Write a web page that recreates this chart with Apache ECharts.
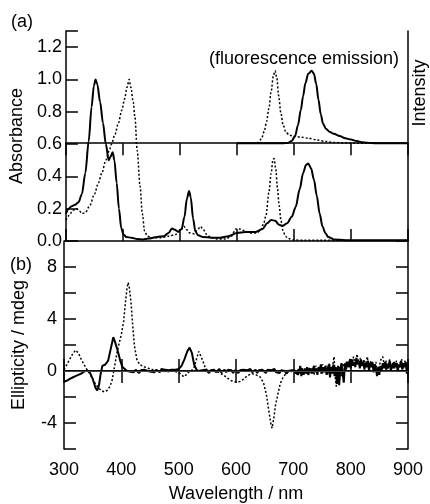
<!DOCTYPE html>
<html>
<head>
<meta charset="utf-8">
<script src="https://cdn.jsdelivr.net/npm/echarts@6/dist/echarts.min.js"></script>
<style>
  html, body { margin: 0; padding: 0; background: #fff; }
  #chart { width: 430px; height: 504px; }
</style>
</head>
<body>
<div id="chart"></div>
<script>
// (a) absorbance, [wavelength nm, absorbance]
const absSolid = [[300,0.17],[305,0.2],[310,0.215],[316,0.225],[322,0.24],[328,0.29],[334,0.42],[340,0.62],[345,0.83],[349,0.96],[352,1.0],[355,0.97],[360,0.86],[365,0.73],[370,0.6],[375,0.5],[378,0.52],[382,0.55],[385,0.5],[389,0.36],[393,0.2],[397,0.08],[401,0.04],[406,0.025],[415,0.02],[425,0.012],[435,0.01],[445,0.015],[460,0.025],[472,0.03],[480,0.05],[486,0.078],[491,0.07],[497,0.058],[503,0.075],[508,0.15],[512,0.26],[516,0.31],[519,0.27],[523,0.14],[527,0.06],[532,0.035],[540,0.025],[555,0.02],[570,0.02],[585,0.03],[600,0.05],[615,0.055],[633,0.056],[645,0.075],[653,0.11],[660,0.13],[667,0.125],[674,0.1],[680,0.093],[688,0.11],[696,0.15],[703,0.21],[710,0.32],[716,0.42],[721,0.47],[725,0.48],[730,0.45],[735,0.38],[740,0.28],[745,0.17],[750,0.09],[755,0.05],[760,0.025],[770,0.01],[790,0.005],[820,0.004],[900,0.004]];
const absDotted = [[300,0.13],[306,0.16],[312,0.19],[319,0.2],[324,0.185],[328,0.17],[334,0.175],[342,0.22],[350,0.29],[357,0.36],[363,0.42],[370,0.5],[376,0.56],[380,0.6],[386,0.66],[392,0.73],[398,0.81],[403,0.88],[407,0.95],[411,1.0],[414,0.95],[418,0.86],[421,0.77],[425,0.56],[430,0.34],[434,0.17],[438,0.06],[443,0.03],[450,0.02],[465,0.02],[480,0.03],[492,0.04],[500,0.06],[507,0.09],[512,0.07],[517,0.05],[525,0.045],[531,0.07],[536,0.09],[541,0.07],[547,0.04],[555,0.02],[565,0.012],[580,0.012],[590,0.03],[598,0.075],[604,0.075],[612,0.065],[622,0.05],[635,0.05],[642,0.07],[647,0.11],[651,0.16],[656,0.3],[660,0.42],[663,0.5],[665,0.51],[668,0.45],[671,0.33],[674,0.22],[677,0.13],[681,0.06],[685,0.03],[690,0.015],[700,0.006],[720,0.004],[900,0.003]];
// inset: fluorescence emission, [wavelength nm, normalised intensity]
const emSolid = [[600,0],[680,0],[689,0.005],[696,0.03],[702,0.1],[707,0.25],[712,0.46],[716,0.65],[720,0.83],[725,0.96],[731,1.0],[735,0.96],[739,0.82],[743,0.6],[747,0.4],[751,0.27],[756,0.2],[762,0.16],[770,0.13],[780,0.1],[790,0.07],[800,0.05],[810,0.03],[820,0.015],[835,0.002],[850,0],[900,0]];
const emDotted = [[600,0],[630,0],[637,0.01],[643,0.06],[648,0.17],[652,0.3],[656,0.48],[660,0.72],[664,0.94],[667,1.0],[670,0.9],[673,0.66],[677,0.42],[681,0.25],[686,0.15],[692,0.11],[700,0.095],[712,0.085],[725,0.07],[740,0.045],[755,0.025],[770,0.01],[790,0.003],[810,0],[900,0]];
// (b) CD, [wavelength nm, ellipticity mdeg]
const cdSolid = [[300,-0.8],[305,-0.75],[310,-0.6],[315,-0.5],[320,-0.4],[325,-0.3],[330,-0.2],[335,-0.05],[340,0.05],[345,-0.1],[350,-0.6],[355,-1.3],[358,-1.5],[361,-1.1],[364,-0.2],[367,0.4],[372,0.5],[377,0.8],[382,1.8],[386,2.6],[390,2.1],[394,1.5],[398,0.8],[402,0.3],[406,0.15],[410,0.0],[413,0.15],[416,-0.05],[419,0.1],[422,-0.1],[425,0.1],[428,0.0],[431,-0.15],[434,0.05],[437,-0.1],[440,0.1],[443,-0.05],[446,0.0],[449,0.15],[452,-0.05],[455,0.05],[458,-0.1],[461,0.1],[464,0.0],[467,-0.1],[470,0.15],[473,0.0],[476,0.1],[479,-0.05],[482,0.05],[485,-0.1],[488,0.1],[491,0.0],[495,0.1],[500,0.15],[505,0.4],[510,0.9],[515,1.5],[519,1.8],[523,1.4],[527,0.5],[531,0.1],[535,0.0],[538,-0.1],[541,0.05],[544,-0.1],[547,0.1],[550,0.0],[553,-0.15],[556,0.05],[559,-0.05],[562,0.1],[565,-0.1],[568,0.05],[571,0.15],[574,-0.1],[577,0.0],[580,0.1],[583,-0.1],[586,0.1],[589,-0.05],[592,0.05],[595,-0.15],[598,0.05],[601,0.0],[604,-0.15],[607,0.05],[610,-0.1],[613,0.1],[616,-0.05],[619,0.05],[622,-0.1],[625,0.15],[628,-0.1],[631,0.0],[634,0.1],[637,-0.15],[640,0.05],[643,-0.1],[646,0.1],[649,0.0],[652,-0.15],[655,0.1],[658,-0.05],[661,0.05],[664,-0.1],[667,0.15],[670,-0.1],[673,0.0],[676,-0.15],[679,0.05],[682,-0.1],[685,0.0],[688,-0.2],[691,0.0],[694,-0.1],[697,0.05],
  [700,-0.1],[702,0.05],[704,-0.2],[706,0.0],[708,-0.3],[710,-0.1],[712,0.4],[714,-0.4],[716,0.1],[718,-0.3],[720,0.2],[722,-0.2],[724,0.3],[726,-0.3],[728,0.0],[730,0.2],[732,-0.2],[734,0.1],[736,0.4],[738,-0.1],[740,0.2],[742,-0.3],[744,0.3],[746,0.0],[748,0.5],[750,-0.2],[752,0.3],[754,-0.1],[756,0.4],[758,-0.3],[760,0.2],[762,0.5],[764,-0.5],[766,0.3],[768,-0.2],[770,0.5],[772,-0.4],[774,0.3],[776,-1.0],[778,0.4],[780,-1.1],[782,0.2],[784,0.6],[786,-0.2],[788,-0.9],[790,0.6],[792,0.1],[794,0.7],[796,0.3],[798,0.8],[800,0.2],[802,0.9],[804,0.4],[806,0.7],[808,0.3],[810,1.0],[812,0.5],[814,0.8],[816,0.2],[818,0.9],[820,0.4],[822,0.7],[824,0.1],[826,0.6],[828,0.3],[830,0.8],[832,0.0],[834,0.6],[836,0.3],[838,0.7],[840,-0.1],[842,0.5],[844,0.2],[846,-0.4],[848,0.3],[850,-0.3],[852,0.4],[854,0.0],[856,0.6],[858,0.2],[860,0.7],[862,0.1],[864,0.5],[866,0.3],[868,0.8],[870,0.0],[872,0.5],[874,0.2],[876,0.7],[878,0.3],[880,0.6],[882,0.0],[884,0.5],[886,0.3],[888,0.8],[890,0.1],[892,0.6],[894,0.3],[896,0.7],[898,-0.2],[900,0.5]];
const cdDotted = [[300,0.1],[305,0.5],[310,0.9],[315,1.3],[320,1.6],[325,1.4],[330,0.9],[335,0.5],[340,0.1],[345,-0.2],[350,-0.6],[355,-1.0],[360,-1.3],[365,-1.5],[370,-1.6],[375,-1.5],[380,-1.2],[384,-0.7],[388,0.3],[392,1.3],[396,2.1],[400,2.8],[404,3.8],[407,5.2],[410,6.4],[412,6.8],[414,6.4],[417,5.2],[420,3.4],[423,1.9],[427,0.9],[432,0.5],[438,0.35],[445,0.25],[450,0.15],[460,0.05],[470,0.0],[480,-0.05],[490,0.0],[500,-0.1],[505,-0.3],[509,-0.45],[513,-0.3],[517,-0.1],[522,0.0],[527,0.3],[531,0.9],[535,1.5],[538,1.4],[542,0.8],[546,0.3],[550,0.05],[560,0.0],[570,-0.1],[578,-0.3],[585,-0.55],[592,-0.75],[600,-0.85],[607,-0.8],[614,-0.6],[620,-0.35],[628,-0.2],[635,-0.3],[642,-0.45],[648,-0.9],[653,-1.8],[657,-3.0],[661,-4.1],[663,-4.4],[666,-3.6],[669,-2.6],[673,-1.8],[677,-1.0],[682,-0.5],[688,-0.15],[695,0.0],
  [700,-0.1],[703,0.1],[706,-0.3],[709,0.2],[712,-0.2],[715,0.3],[718,-0.3],[721,0.1],[724,-0.2],[727,0.3],[730,-0.1],[733,0.2],[736,-0.3],[739,0.4],[742,-0.1],[745,0.3],[748,-0.2],[751,0.5],[754,0.0],[757,0.4],[760,-0.3],[763,0.6],[766,-0.1],[769,0.5],[771,1.1],[773,-0.4],[775,-1.2],[777,0.2],[779,-0.7],[781,0.3],[784,-0.4],[787,0.6],[790,0.1],[793,0.8],[796,0.3],[799,1.0],[802,0.5],[805,1.1],[808,0.4],[811,1.3],[814,0.6],[817,1.0],[820,0.3],[823,0.9],[826,0.4],[829,1.1],[832,0.2],[835,0.8],[838,0.4],[841,0.1],[844,0.7],[847,-0.3],[850,0.4],[853,0.9],[856,1.1],[859,0.3],[862,0.8],[865,0.1],[868,0.9],[871,0.3],[874,0.7],[877,0.2],[880,0.8],[883,0.0],[886,0.6],[889,0.9],[892,0.2],[895,0.8],[898,0.3],[900,0.5]];

const FONT = "'Liberation Sans', Arial, sans-serif";
const chart = echarts.init(document.getElementById('chart'));

const lineAxis = { show: true, lineStyle: { color: '#000', width: 1.5 } };
const tickIn = { show: true, inside: true, length: 12, lineStyle: { color: '#000', width: 1.5 } };
const noTick = { show: false };
const lbl = { color: '#000', fontSize: 18, fontFamily: FONT };

function xAx(grid, pos, withLabels) {
    return {
        type: 'value', gridIndex: grid, position: pos, min: 300, max: 900, interval: 100,
        axisLine: lineAxis, axisTick: tickIn, splitLine: { show: false },
        axisLabel: withLabels ? Object.assign({ margin: 12 }, lbl) : { show: false },
        name: withLabels ? 'Wavelength / nm' : '',
        nameLocation: 'middle', nameGap: 36,
        nameTextStyle: lbl
    };
}

function solid(x, y, data, smooth) {
    return { type: 'line', xAxisIndex: x, yAxisIndex: y, data: data, showSymbol: false, smooth: smooth,
        smoothMonotone: 'x', lineStyle: { color: '#000', width: 2 }, animation: false, silent: true };
}
function dotted(x, y, data, smooth) {
    return { type: 'line', xAxisIndex: x, yAxisIndex: y, data: data, showSymbol: false, smooth: smooth,
        smoothMonotone: 'x', lineStyle: { color: '#000', width: 1.5, type: [2, 2] }, animation: false, silent: true };
}

const cdLine = dotted(2, 2, cdDotted, false);
cdLine.markLine = {
    silent: true, symbol: 'none', label: { show: false },
    lineStyle: { color: '#555', width: 0.8, type: 'solid' },
    data: [{ yAxis: 0 }]
};

const option = {
    animation: false,
    grid: [
        { left: 64, top: 31, right: 22, height: 210 },
        { left: 64, top: 241, right: 22, height: 210 }
    ],
    xAxis: [xAx(0, 'bottom', false), xAx(0, 'top', false), xAx(1, 'bottom', true), xAx(1, 'top', false)],
    yAxis: [
        {
            type: 'value', gridIndex: 0, position: 'left', min: 0, max: 1.3, interval: 0.2,
            axisLine: lineAxis, axisTick: tickIn, splitLine: { show: false },
            axisLabel: Object.assign({ margin: 4, formatter: v => (Math.abs(v * 5 - Math.round(v * 5)) < 1e-6 ? v.toFixed(1) : '') }, lbl),
            name: 'Absorbance', nameLocation: 'middle', nameGap: 34, nameTextStyle: lbl
        },
        {
            type: 'value', gridIndex: 0, position: 'right', min: -1.35, max: 1.55,
            axisLine: lineAxis, axisTick: noTick, axisLabel: { show: false }, splitLine: { show: false }
        },
        {
            type: 'value', gridIndex: 1, position: 'left', min: -6, max: 10, interval: 2,
            axisLine: lineAxis, axisTick: tickIn, splitLine: { show: false },
            axisLabel: Object.assign({ margin: 7, formatter: v => (v % 4 === 0 ? String(v) : '') }, lbl),
            name: 'Ellipticity / mdeg', nameLocation: 'middle', nameGap: 36, nameTextStyle: lbl
        },
        {
            type: 'value', gridIndex: 1, position: 'right', min: -6, max: 10, interval: 2,
            axisLine: lineAxis, axisTick: tickIn, axisLabel: { show: false }, splitLine: { show: false }
        }
    ],
    graphic: [
        { type: 'text', left: 11, top: 13, style: { text: '(a)', font: '18px ' + FONT, fill: '#000' } },
        { type: 'text', left: 10, top: 256, style: { text: '(b)', font: '18px ' + FONT, fill: '#000' } },
        { type: 'text', left: 209, top: 50, style: { text: '(fluorescence emission)', font: '18px ' + FONT, fill: '#000' } },
        { type: 'text', x: 420, y: 93, rotation: Math.PI / 2,
          style: { text: 'Intensity', font: '18px ' + FONT, fill: '#000', align: 'center', verticalAlign: 'middle', textAlign: 'center', textVerticalAlign: 'middle' } }
    ],
    series: [
        solid(0, 0, absSolid, 0.3),
        dotted(0, 0, absDotted, 0.3),
        solid(0, 1, emSolid, 0.3),
        dotted(0, 1, emDotted, 0.3),
        solid(2, 2, cdSolid, false),
        cdLine
    ]
};

chart.setOption(option);
</script>
</body>
</html>
